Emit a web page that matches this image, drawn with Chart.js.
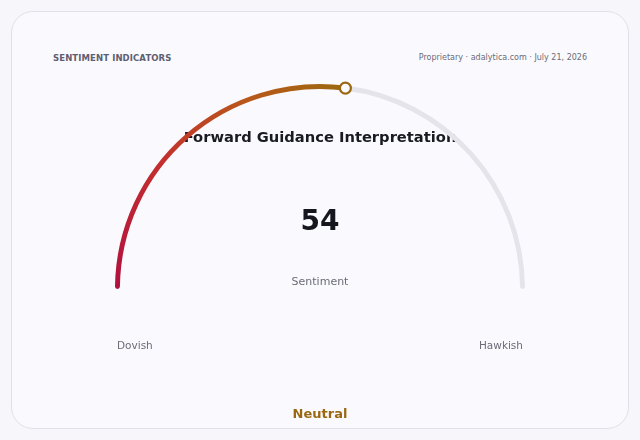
<!DOCTYPE html>
<html>
<head>
<meta charset="utf-8">
<script src="https://cdn.jsdelivr.net/npm/chart.js@4.4.1/dist/chart.umd.min.js"></script>
<style>
  html, body { margin: 0; padding: 0; background: #f7f7fb; }
  body { width: 640px; height: 440px; position: relative; overflow: hidden; font-family: "DejaVu Sans", sans-serif; }
  .card { position: absolute; left: 11px; top: 11px; width: 616px; height: 416px; border: 1px solid #e0e0e8; border-radius: 22px; background: #fafafe; }
  .kicker { position: absolute; left: 53px; top: 53px; font-size: 8.5px; font-weight: bold; color: #5e5e72; letter-spacing: 0.1px; }
  .source { position: absolute; right: 53px; top: 53px; font-size: 8px; color: #6b6b78; }
  .wrap { position: absolute; left: 0; top: 0; width: 640px; height: 440px; }
</style>
</head>
<body>
<div class="card"></div>
<div class="kicker">SENTIMENT INDICATORS</div>
<div class="source">Proprietary · adalytica.com · July 21, 2026</div>
<div class="wrap"><canvas id="gauge"></canvas></div>

<script>
// gauge data
const gaugeTitle = 'Forward Guidance Interpretation';
const gaugeLabels = ['Sentiment', 'Remaining'];
const gaugeValue = 54;
const gaugeMax = 100;
const gaugeValues = [gaugeValue, gaugeMax - gaugeValue];
const endLabels = ['Dovish', 'Hawkish'];
const readingLabel = 'Neutral';

const trackColor = '#e4e4ea';
const markColor = '#9a6812';

function valueFill(ctx) {
  if (ctx.dataIndex === 1) return trackColor;
  const arc = ctx.chart.getDatasetMeta(0).data[0];
  if (!arc || arc.x === undefined) return '#b3113f';
  const g = ctx.chart.ctx.createConicGradient(Math.PI, arc.x, arc.y);
  const f = (arc.endAngle - arc.startAngle) / (2 * Math.PI);
  g.addColorStop(0, '#b0103f');
  g.addColorStop(f * 0.4, '#c3302e');
  g.addColorStop(f * 0.7, '#b9571a');
  g.addColorStop(f, '#9c680f');
  g.addColorStop(1, '#9c680f');
  return g;
}

// title sits under the arc, the rest is drawn on top
const gaugeText = {
  id: 'gaugeText',
  beforeDatasetsDraw(chart) {
    const arc = chart.getDatasetMeta(0).data[0];
    const c = chart.ctx;
    c.save();
    c.textAlign = 'center';
    c.textBaseline = 'middle';
    c.fillStyle = '#1a1a22';
    c.font = 'bold 14.7px "DejaVu Sans"';
    c.fillText(gaugeTitle, arc.x, arc.y - 151);
    c.restore();
  },
  afterDatasetsDraw(chart) {
    const arc = chart.getDatasetMeta(0).data[0];
    const c = chart.ctx;
    const r = (arc.innerRadius + arc.outerRadius) / 2;
    c.save();
    // end marker
    const mx = arc.x + r * Math.cos(arc.endAngle);
    const my = arc.y + r * Math.sin(arc.endAngle);
    c.beginPath();
    c.arc(mx, my, 5.5, 0, Math.PI * 2);
    c.fillStyle = '#fafafe';
    c.fill();
    c.lineWidth = 2.2;
    c.strokeStyle = markColor;
    c.stroke();

    c.textBaseline = 'middle';
    c.textAlign = 'center';
    c.fillStyle = '#16161e';
    c.font = 'bold 28px "DejaVu Sans"';
    c.fillText(String(gaugeValues[0]), arc.x, arc.y - 66);
    c.fillStyle = '#6b6b78';
    c.font = '11px "DejaVu Sans"';
    c.fillText(gaugeLabels[0], arc.x, arc.y - 7);
    c.font = '10.5px "DejaVu Sans"';
    c.textAlign = 'left';
    c.fillText(endLabels[0], arc.x - arc.outerRadius + 2, arc.y + 57);
    c.textAlign = 'right';
    c.fillText(endLabels[1], arc.x + arc.outerRadius - 2, arc.y + 57);
    c.textAlign = 'center';
    c.fillStyle = markColor;
    c.font = 'bold 13px "DejaVu Sans"';
    c.fillText(readingLabel, arc.x, arc.y + 126);
    c.restore();
  }
};

const chart = new Chart(document.getElementById('gauge'), {
  type: 'doughnut',
  data: {
    labels: gaugeLabels,
    datasets: [{
      data: gaugeValues,
      backgroundColor: valueFill,
      borderWidth: 0,
      borderRadius: (ctx) => ctx.dataIndex === 0
        ? { outerStart: 2.5, innerStart: 2.5, outerEnd: 0, innerEnd: 0 }
        : { outerStart: 0, innerStart: 0, outerEnd: 2.5, innerEnd: 2.5 }
    }]
  },
  options: {
    responsive: true,
    maintainAspectRatio: false,
    animation: false,
    events: [],
    rotation: -90,
    circumference: 180,
    cutout: '97.6%',
    layout: { padding: { top: 84, bottom: 151, left: 115, right: 115 } },
    plugins: {
      legend: { display: false },
      tooltip: { enabled: false },
      title: { display: false }
    }
  },
  plugins: [gaugeText]
});
chart.update('none');
</script>
</body>
</html>
